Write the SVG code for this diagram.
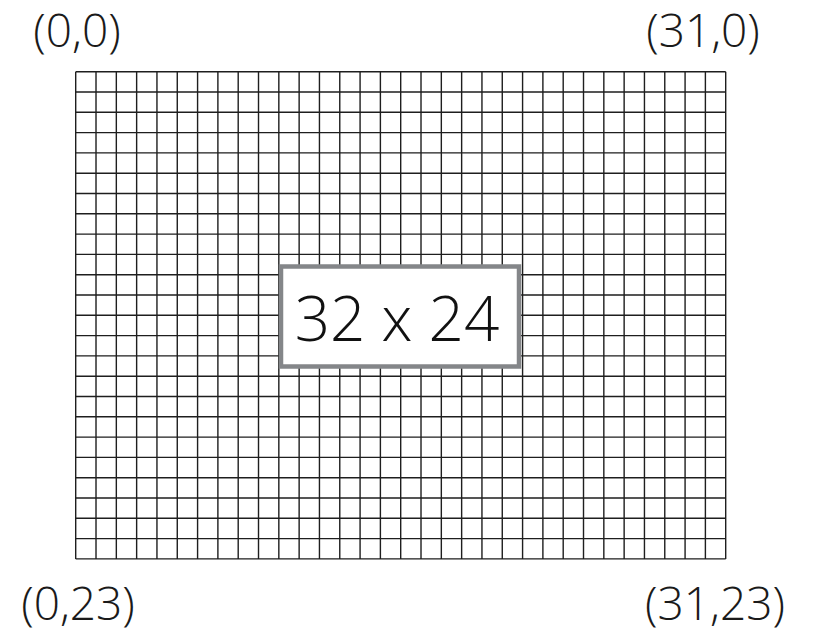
<svg xmlns="http://www.w3.org/2000/svg" width="815" height="631" viewBox="0 0 815 631">
<defs>
<style>
.lbl{font-family:"Open Sans","Liberation Sans",sans-serif;font-weight:300;font-size:46px;fill:#1a1a1a}
.big{font-family:"Open Sans","Liberation Sans",sans-serif;font-weight:300;font-size:62px;fill:#111}
.gl{fill:none;stroke:#1e1e1e;stroke-width:1.4}
</style>
</defs>
<rect width="815" height="631" fill="#fff"/>
<g id="grid">
<path class="gl" d="M75.7,71.7V558.9M96.01,71.7V558.9M116.33,71.7V558.9M136.64,71.7V558.9M156.95,71.7V558.9M177.27,71.7V558.9M197.58,71.7V558.9M217.89,71.7V558.9M238.2,71.7V558.9M258.51,71.7V558.9M278.83,71.7V558.9M299.14,71.7V558.9M319.45,71.7V558.9M339.77,71.7V558.9M360.08,71.7V558.9M380.39,71.7V558.9M400.7,71.7V558.9M421.01,71.7V558.9M441.33,71.7V558.9M461.64,71.7V558.9M481.95,71.7V558.9M502.27,71.7V558.9M522.58,71.7V558.9M542.89,71.7V558.9M563.2,71.7V558.9M583.51,71.7V558.9M603.83,71.7V558.9M624.14,71.7V558.9M644.45,71.7V558.9M664.77,71.7V558.9M685.08,71.7V558.9M705.39,71.7V558.9M725.7,71.7V558.9"/>
<path class="gl" d="M75.7,71.7H725.7M75.7,92H725.7M75.7,112.3H725.7M75.7,132.6H725.7M75.7,152.9H725.7M75.7,173.2H725.7M75.7,193.5H725.7M75.7,213.8H725.7M75.7,234.1H725.7M75.7,254.4H725.7M75.7,274.7H725.7M75.7,295H725.7M75.7,315.3H725.7M75.7,335.6H725.7M75.7,355.9H725.7M75.7,376.2H725.7M75.7,396.5H725.7M75.7,416.8H725.7M75.7,437.1H725.7M75.7,457.4H725.7M75.7,477.7H725.7M75.7,498H725.7M75.7,518.3H725.7M75.7,538.6H725.7M75.7,558.9H725.7"/>
</g>
<g id="size-box">
<rect x="281" y="266.5" width="238" height="100" fill="#fff" stroke="#848689" stroke-width="4.5"/>
<text class="big" x="397" y="341" text-anchor="middle">32 x 24</text>
</g>
<g id="corner-labels">
<text class="lbl" x="77" y="47" text-anchor="middle">(0,0)</text>
<text class="lbl" x="703" y="47" text-anchor="middle">(31,0)</text>
<text class="lbl" x="78" y="620" text-anchor="middle">(0,23)</text>
<text class="lbl" x="715" y="620" text-anchor="middle">(31,23)</text>
</g>
</svg>
